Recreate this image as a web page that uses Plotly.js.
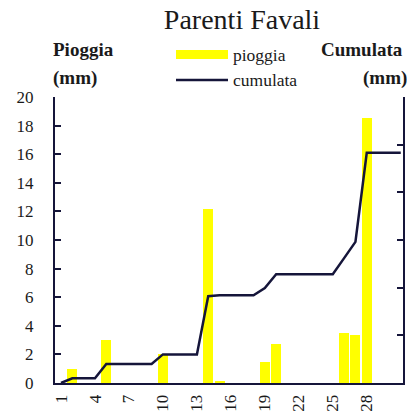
<!DOCTYPE html>
<html><head><meta charset="utf-8">
<script src="https://cdn.plot.ly/plotly-3.0.1.min.js"></script>
<style>html,body{margin:0;padding:0;background:#fff}</style>
</head><body><div id="chart" style="width:407px;height:416px"></div>
<script>
const days = Array.from({length:31},(_,i)=>i+1);
const rainDays = [2,5,10,14,15,19,20,26,27,28];
const rainVals = [1.0,3.0,2.0,12.2,0.15,1.5,2.7,3.5,3.35,18.5];
const cumulata = [0,1,1,1,4,4,4,4,4,6,6,6,6,18.2,18.4,18.4,18.4,18.4,19.9,22.8,22.8,22.8,22.8,22.8,22.8,26.2,29.6,48.3,48.3,48.3,48.3];
const xTicks = [1,4,7,10,13,16,19,22,25,28];
const yTicks = [0,2,4,6,8,10,12,14,16,18,20];

const navy = '#15153a';
const F = '"Liberation Serif"';

const traces = [
  {type:'bar', x:rainDays, y:rainVals, marker:{color:'#ffff00'}, width:0.88, name:'pioggia', showlegend:false},
  {type:'scatter', mode:'lines', x:days, y:cumulata, yaxis:'y2', line:{color:navy, width:2.5}, name:'cumulata', showlegend:false}
];

const L=55, R=4, T=97, B=33, W=407, H=416;
const pw = W-L-R, ph = H-T-B;
const px = v => (v-L)/pw;
const py = v => (H-B-v)/ph;

const layout = {
  width:W, height:H,
  margin:{l:L, r:R, t:T, b:B},
  paper_bgcolor:'#fff', plot_bgcolor:'#fff',
  font:{family:F, color:'#1a1a1a', size:17},
  title:{text:'Parenti Favali', font:{family:F, size:28, color:'#1a1a1a'}, xref:'paper', x:px(242), xanchor:'center', yref:'container', y:0.978, yanchor:'top'},
  showlegend:false,
  bargap:0,
  xaxis:{range:[0.47,31.2], tickvals:xTicks, ticktext:xTicks.map(String), tickangle:-90, showgrid:false, zeroline:false,
         showline:true, linecolor:navy, linewidth:2, ticks:'', ticklabelstandoff:3, tickfont:{family:F, size:17}},
  yaxis:{range:[0,20], tickvals:yTicks, showgrid:false, zeroline:false, showline:true, linecolor:navy, linewidth:2,
         ticks:'inside', ticklen:6, tickwidth:2, tickcolor:navy, ticklabelstandoff:16, tickfont:{family:F, size:17}},
  yaxis2:{range:[0,60], dtick:10, overlaying:'y', side:'right', showgrid:false, zeroline:false, showline:true, linecolor:navy, linewidth:2,
          ticks:'inside', ticklen:6, tickwidth:2, tickcolor:navy, showticklabels:false},
  shapes:[
    {type:'rect', xref:'paper', yref:'paper', x0:px(176), x1:px(228), y0:py(59), y1:py(50), fillcolor:'#ffff00', line:{width:0}},
    {type:'line', xref:'paper', yref:'paper', x0:px(176), x1:px(228), y0:py(80), y1:py(80), line:{color:navy, width:2.5}}
  ],
  annotations:[
    {text:'pioggia', xref:'paper', yref:'paper', x:px(231), y:py(55), xanchor:'left', yanchor:'middle', showarrow:false, font:{family:F, size:17.5}},
    {text:'cumulata', xref:'paper', yref:'paper', x:px(231), y:py(80), xanchor:'left', yanchor:'middle', showarrow:false, font:{family:F, size:17.5}},
    {text:'<b>Pioggia</b>', xref:'paper', yref:'paper', x:px(51), y:py(50), xanchor:'left', yanchor:'middle', showarrow:false, font:{family:F, size:19}},
    {text:'<b>(mm)</b>', xref:'paper', yref:'paper', x:px(51), y:py(78), xanchor:'left', yanchor:'middle', showarrow:false, font:{family:F, size:19}},
    {text:'<b>Cumulata</b>', xref:'paper', yref:'paper', x:px(405), y:py(50), xanchor:'right', yanchor:'middle', showarrow:false, font:{family:F, size:19}},
    {text:'<b>(mm)</b>', xref:'paper', yref:'paper', x:px(409), y:py(78), xanchor:'right', yanchor:'middle', showarrow:false, font:{family:F, size:19}}
  ]
};
Plotly.newPlot('chart', traces, layout, {staticPlot:true, displayModeBar:false});
</script></body></html>
